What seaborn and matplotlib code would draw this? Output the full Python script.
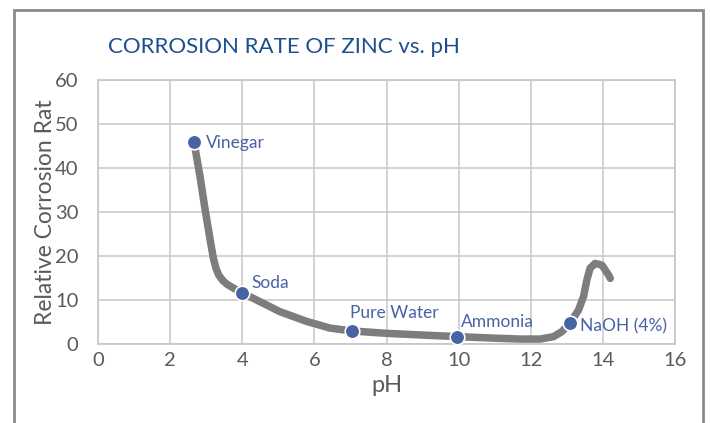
import pandas as pd
import matplotlib.pyplot as plt
import matplotlib.patches as patches
import seaborn as sns

# Curve (pH, relative corrosion rate)
curve_ph = [2.65, 2.70, 2.83, 2.97, 3.11, 3.20, 3.27, 3.35, 3.46, 3.57, 3.75, 4.0, 4.49, 5.05,
            5.79, 6.43, 7.03, 8.0, 9.02, 9.95, 11.0, 11.7, 12.26, 12.63, 12.86, 13.09, 13.32,
            13.46, 13.55, 13.64, 13.78, 13.97, 14.15, 14.2]
curve_rate = [46.0, 44.1, 38.0, 30.5, 23.6, 19.4, 17.2, 15.6, 14.4, 13.6, 12.7, 11.6, 9.6, 7.3,
              5.1, 3.6, 2.95, 2.4, 2.0, 1.66, 1.3, 1.1, 1.1, 1.66, 2.8, 4.85, 7.7,
              10.8, 14.5, 17.2, 18.3, 17.9, 15.7, 14.9]

# Labelled points
point_names = ['Vinegar', 'Soda', 'Pure Water', 'Ammonia', 'NaOH (4%)']
point_ph = [2.65, 4.0, 7.03, 9.95, 13.09]
point_rate = [46.0, 11.6, 2.95, 1.66, 4.85]
label_offsets = [(12, -1), (9, 10), (-2, 18), (4, 15), (10, -4)]

x_ticks = [0, 2, 4, 6, 8, 10, 12, 14, 16]
y_ticks = [0, 10, 20, 30, 40, 50, 60]

curve = pd.DataFrame({'pH': curve_ph, 'rate': curve_rate})
points = pd.DataFrame({'pH': point_ph, 'rate': point_rate, 'name': point_names})

sns.set_style('whitegrid', {'grid.color': '#c6c6c8', 'axes.edgecolor': '#c6c6c8'})
plt.rcParams['font.family'] = ['Lato', 'DejaVu Sans']

fig = plt.figure(figsize=(7.1, 4.23), dpi=100)
ax = fig.add_axes([0.138, 0.187, 0.813, 0.624])

gray = '#7d7d80'
blue = '#4763a3'
text_gray = '#5a5a5c'

sns.lineplot(data=curve, x='pH', y='rate', sort=False, color=gray, lw=5.4,
             solid_capstyle='round', solid_joinstyle='round', ax=ax, zorder=3)
sns.scatterplot(data=points, x='pH', y='rate', color=blue, s=110, edgecolor='white',
                linewidth=1.2, ax=ax, zorder=4)

for name, px, py, off in zip(point_names, point_ph, point_rate, label_offsets):
    ax.annotate(name, (px, py), xytext=off, textcoords='offset pixels',
                ha='left', va='center', color=blue, fontsize=12.5)

ax.set_xlim(0, 16)
ax.set_ylim(0, 60)
ax.set_xticks(x_ticks)
ax.set_yticks(y_ticks)
ax.tick_params(axis='both', length=0, labelsize=14.5, labelcolor=text_gray)
ax.tick_params(axis='x', pad=6)
ax.tick_params(axis='y', pad=14)
ax.grid(True, lw=1.1)
for s in ax.spines.values():
    s.set_linewidth(1.2)

ax.set_xlabel('pH', fontsize=17, color=text_gray, labelpad=4)
ax.set_ylabel('Relative Corrosion Rat', fontsize=16.5, color=text_gray, labelpad=6)
ax.yaxis.set_label_coords(-0.073, 0.5)

fig.text(0.4, 0.889, 'CORROSION RATE OF ZINC vs. pH', ha='center', va='center',
         color='#1f4f8f', fontsize=16)

# outer frame of the figure (bottom edge is cut off)
fig.add_artist(patches.Rectangle((14 / 710, -0.05), 689 / 710, 1.05 - 10 / 423,
                                 transform=fig.transFigure, fill=False,
                                 edgecolor='#8a8a8c', lw=2))

plt.savefig('out.png', dpi=100)
plt.close()
